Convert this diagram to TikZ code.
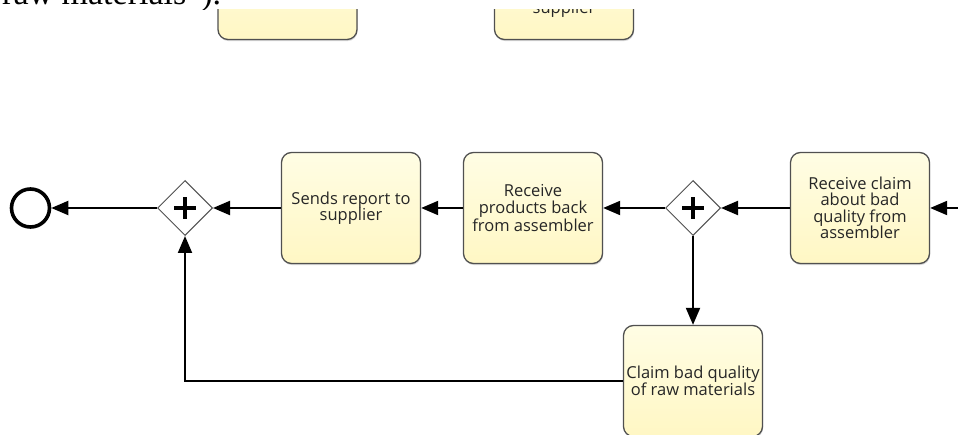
\documentclass[tikz,border=0pt]{standalone}
\usepackage{fontspec}
\setmainfont{Open Sans}
\newfontfamily\pagefont{Liberation Serif}
\usepackage{xcolor}
\usetikzlibrary{arrows.meta,shapes.geometric,shadows}
\definecolor{taskfill}{RGB}{255,247,196}
\definecolor{taskfilllight}{RGB}{255,253,228}
\definecolor{taskborder}{RGB}{80,80,80}
\tikzset{task/.style={draw=taskborder,line width=1.3pt,rounded corners=10pt,minimum width=139pt,minimum height=111pt,inner sep=1pt,align=center,text=black!85,font=\fontsize{16.5}{16.5}\selectfont,top color=taskfilllight,bottom color=taskfill,drop shadow={shadow xshift=0.6pt,shadow yshift=-1.6pt,opacity=0.3}},
	task label/.style={text=black!85,font=\fontsize{16.5}{16.5}\selectfont,inner sep=0pt},
	gateway/.style={diamond,draw=taskborder,fill=white,line width=1pt,minimum width=55pt,minimum height=55pt,inner sep=0pt,path picture={\draw[black,line width=3.8pt] (path picture bounding box.center) ++(-11pt,0) -- ++(22pt,0); \draw[black,line width=3.8pt] (path picture bounding box.center) ++(0,-11pt) -- ++(0,22pt);}},
	end event/.style={circle,draw=black,line width=3.6pt,minimum size=38pt,inner sep=0pt},
	flow/.style={line width=2pt,-{Triangle[length=17pt,width=14pt]}},
	page text/.style={font=\pagefont\fontsize{34}{40}\selectfont,inner sep=0pt}}

\begin{document}
\begin{tikzpicture}[x=1pt,y=-1pt]
	\useasboundingbox (0,0) rectangle (958,435);
	\begin{scope}
		\clip (0,0) rectangle (958,10);
		\node[page text,anchor=base west] (pageline) at (2,5) {raw materials”).};
	\end{scope}
	\begin{scope}
		\clip (0,10) rectangle (958,435);
		\node[task] (topa) at (287.5,-16) {};
		\node[task] (topb) at (564,-16) {};
		\node[task label,anchor=base] (topbtext) at (564,14) {supplier};
		\node[end event] (end) at (30.5,208) {};
		\node[gateway] (g1) at (185,208) {};
		\node[task] (report) at (351,208) {Sends report to\\supplier};
		\node[task] (products) at (533,208) {Receive\\products back\\from assembler};
		\node[gateway] (g2) at (693,208) {};
		\node[task] (claimrecv) at (860,208) {Receive claim\\about bad\\quality from\\assembler};
		\node[task] (claimbad) at (693,381) {Claim bad quality\\of raw materials};
		\coordinate (inright) at (958,208);
		\draw[flow] (inright) -- (claimrecv.east);
		\draw[flow] (claimrecv.west) -- (g2.east);
		\draw[flow] (g2.west) -- (products.east);
		\draw[flow] (products.west) -- (report.east);
		\draw[flow] (report.west) -- (g1.east);
		\draw[flow] (g1.west) -- (end.east);
		\draw[flow] (g2.south) -- (claimbad.north);
		\draw[flow] (claimbad.west) -| (g1.south);
	\end{scope}
\end{tikzpicture}
\end{document}
